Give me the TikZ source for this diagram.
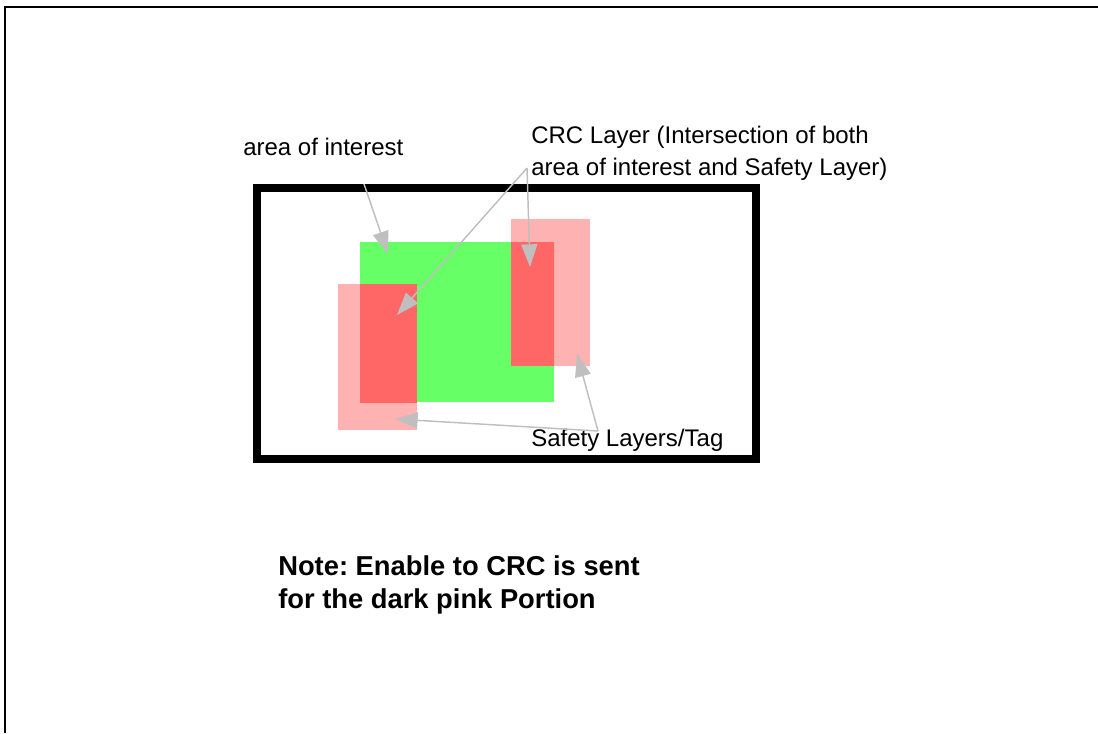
\documentclass[tikz,border=0pt]{standalone}
\usepackage{fontspec}
\setmainfont{Liberation Sans}
\usepackage{tikz}
\usetikzlibrary{arrows.meta}
\usepackage{xcolor}
\frenchspacing
\definecolor{aoigreen}{RGB}{102,255,102}
\definecolor{safepink}{RGB}{255,178,178}
\definecolor{crcred}{RGB}{255,102,102}
\definecolor{callgray}{RGB}{191,191,191}

\begin{document}
\begin{tikzpicture}[x=0.75pt,y=-0.75pt,>={Triangle[length=17pt,width=12pt]},
    callout/.style={->,draw=callgray,fill=callgray,line width=1.1pt},
    txt/.style={anchor=base west,inner sep=0pt,align=left,font=\fontsize{18}{23.5}\selectfont},
    notetxt/.style={anchor=base west,inner sep=0pt,align=left,font=\bfseries\fontsize{20.5}{24.75}\selectfont}]
    \useasboundingbox (0,0) rectangle (1098,733);
    \draw[line width=1.1pt] (5,733) -- (5,7) -- (1098,7);
    \draw[line width=6pt] (257,188) rectangle (756,459);
    \fill[aoigreen] (360,242) rectangle (554,402);
    \fill[safepink] (338,284) rectangle (417,430);
    \fill[safepink] (511,219) rectangle (590,366);
    \begin{scope}
        \clip (360,242) rectangle (554,402);
        \fill[crcred] (338,284) rectangle (417,430);
        \fill[crcred] (511,219) rectangle (590,366);
    \end{scope}
    \node[txt] (aoi) at (243,155) {area of interest};
    \node[txt] (crc) at (531,175) {CRC Layer (Intersection of both\\area of interest and Safety Layer)};
    \node[txt] (safe) at (531,446) {Safety Layers/Tag};
    \node[notetxt] (note) at (278,608) {Note: Enable to CRC is sent\\for the dark pink Portion};
    \coordinate (aoiTail) at (364,184);
    \coordinate (aoiTip) at (388,254);
    \coordinate (crcTail) at (527,168);
    \coordinate (crcLeftTip) at (397,315);
    \coordinate (crcRightTip) at (530,267);
    \coordinate (safeTail) at (598,431);
    \coordinate (safeLeftTip) at (395,419);
    \coordinate (safeRightTip) at (577,354);
    \draw[callout] (aoiTail) -- (aoiTip);
    \draw[callout] (crcTail) -- (crcLeftTip);
    \draw[callout] (crcTail) -- (crcRightTip);
    \draw[callout] (safeTail) -- (safeLeftTip);
    \draw[callout] (safeTail) -- (safeRightTip);
\end{tikzpicture}
\end{document}
